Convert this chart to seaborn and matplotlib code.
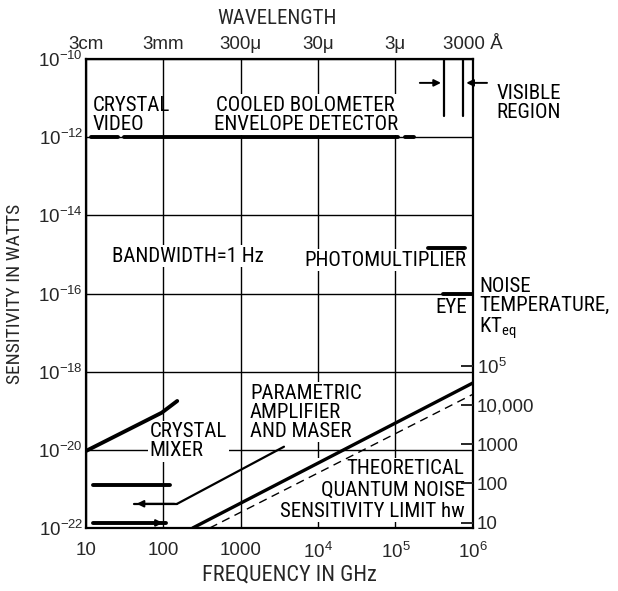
import numpy as np
import matplotlib
matplotlib.use("Agg")
import matplotlib.pyplot as plt
from matplotlib import font_manager as fm
from matplotlib.ticker import NullLocator, FixedLocator, FixedFormatter
import seaborn as sns

# axis ticks
freq_ticks = [10, 100, 1000, 1e4, 1e5, 1e6]
freq_labels = ["10", "100", "1000", "$10^4$", "$10^5$", "$10^6$"]
wave_labels = ["3cm", "3mm", "300μ", "30μ", "3μ", "3000 Å"]
power_ticks = [1e-10, 1e-12, 1e-14, 1e-16, 1e-18, 1e-20, 1e-22]
power_labels = ["$10^{-10}$", "$10^{-12}$", "$10^{-14}$", "$10^{-16}$",
                "$10^{-18}$", "$10^{-20}$", "$10^{-22}$"]
temp_ticks = [10, 100, 1000, 1e4, 1e5]
temp_labels = ["10", "100", "1000", "10,000", "$10^5$"]
k_boltz = 1.38e-23

# detector curves (GHz, watts)
crystal_video_f = [10**1.06, 10**1.41]
crystal_video_p = [1e-12, 1e-12]
bolometer_f = [10**1.49, 10**5.03]
bolometer_p = [1e-12, 1e-12]
bolometer_tail_f = [10**5.13, 10**5.24]
bolometer_tail_p = [1e-12, 1e-12]
photomult_f = [10**5.42, 10**5.90]
photomult_p = [10**-14.83, 10**-14.83]
eye_f = [10**5.62, 10**6.0]
eye_p = [1e-16, 1e-16]
mixer_f = [10, 10**1.98, 10**2.18]
mixer_p = [10**-20.03, 10**-19.05, 10**-18.75]
mixer_low1_f = [10**1.09, 10**2.085]
mixer_low1_p = [10**-20.90, 10**-20.90]
mixer_low2_f = [10**1.09, 10**2.03]
mixer_low2_p = [10**-21.87, 10**-21.87]
paramp_f = [10**2.18, 10**3.56]
paramp_p = [10**-21.38, 10**-19.92]
paramp_arrow_f = [10**2.18, 10**1.62]
quantum_f = [10**2.38, 1e6]
quantum_p = [1e-22, 10**-18.29]
quantum_hatch_f = [10**2.6, 1e6]
quantum_hatch_p = [1e-22, 10**-18.58]
visible_f = [10**5.625, 10**5.88]
visible_p = [1e-10, 10**-11.46]
visible_arrow_p = 10**-10.61
visible_arrow_from = [10**5.28, 10**6.22]

sns.set_style("white")

# the scan uses a condensed gothic face; take a narrow font if one exists
narrow = None
for key in ("RobotoCondensed-Regular", "LiberationSansNarrow-Regular",
            "DejaVuSansCondensed.", "OpenSans_Condensed-Regular"):
    hits = [f for f in fm.fontManager.ttflist if key in f.fname]
    if hits:
        narrow = hits[0]
        break
if narrow is not None:
    lab = dict(family=narrow.name, stretch=narrow.stretch)
    lab_size = 15
else:
    lab = dict(family="Liberation Sans")
    lab_size = 12.5

plt.rcParams["font.family"] = ["Liberation Sans", "DejaVu Sans"]
plt.rcParams["mathtext.default"] = "regular"

fig = plt.figure(figsize=(6.18, 5.91), dpi=100)
ax = fig.add_axes([0.139, 0.1066, 0.626, 0.7935])
ax.set_xscale("log")
ax.set_yscale("log")
ax.set_xlim(10, 1e6)
ax.set_ylim(1e-22, 1e-10)

ax.xaxis.set_major_locator(FixedLocator(freq_ticks))
ax.xaxis.set_major_formatter(FixedFormatter(freq_labels))
ax.yaxis.set_major_locator(FixedLocator(power_ticks))
ax.yaxis.set_major_formatter(FixedFormatter(power_labels))
ax.xaxis.set_minor_locator(NullLocator())
ax.yaxis.set_minor_locator(NullLocator())
ax.tick_params(axis="x", length=0, pad=10, labelsize=13.5)
ax.tick_params(axis="y", length=0, pad=2, labelsize=13.5)
ax.grid(True, color="black", lw=1.0)
for s in ax.spines.values():
    s.set_color("black")
    s.set_linewidth(1.6)

lw_thick = 2.8
def line(f, p, lw=lw_thick):
    sns.lineplot(x=f, y=p, ax=ax, color="black", lw=lw, estimator=None,
                 sort=False, legend=False, zorder=3)

line(crystal_video_f, crystal_video_p)
line(bolometer_f, bolometer_p)
line(bolometer_tail_f, bolometer_tail_p)
line(photomult_f, photomult_p)
line(eye_f, eye_p)
line(mixer_f, mixer_p)
line(mixer_low1_f, mixer_low1_p)
line(mixer_low2_f, mixer_low2_p)
line(paramp_f, paramp_p, lw=1.6)
line(paramp_arrow_f, [paramp_p[0]] * 2, lw=1.6)
line(quantum_f, quantum_p, lw=2.4)
line(quantum_hatch_f, quantum_hatch_p, lw=1.0)
ax.lines[-1].set_dashes([6, 4])
for vf in visible_f:
    line([vf, vf], visible_p, lw=1.6)

arrow = dict(arrowstyle="-|>", color="black", lw=1.4, mutation_scale=10)
ax.annotate("", xy=(paramp_arrow_f[1], paramp_p[0]),
            xytext=(paramp_arrow_f[0], paramp_p[0]), arrowprops=arrow)
ax.annotate("", xy=(mixer_low2_f[1], mixer_low2_p[0]),
            xytext=(mixer_low2_f[1] * 0.8, mixer_low2_p[0]), arrowprops=arrow)
ax.annotate("", xy=(visible_f[0], visible_arrow_p),
            xytext=(visible_arrow_from[0], visible_arrow_p),
            arrowprops=arrow, annotation_clip=False)
ax.annotate("", xy=(visible_f[1], visible_arrow_p),
            xytext=(visible_arrow_from[1], visible_arrow_p),
            arrowprops=arrow, annotation_clip=False)

# top wavelength axis
top = ax.secondary_xaxis("top")
top.xaxis.set_major_locator(FixedLocator(freq_ticks))
top.xaxis.set_major_formatter(FixedFormatter(wave_labels))
top.xaxis.set_minor_locator(NullLocator())
top.tick_params(length=0, pad=4, labelsize=13.5)
top.spines["top"].set_visible(False)

# right noise temperature axis
ax2 = ax.twinx()
ax2.set_yscale("log")
ax2.set_ylim(1e-22 / k_boltz, 1e-10 / k_boltz)
ax2.yaxis.set_major_locator(FixedLocator(temp_ticks))
ax2.yaxis.set_major_formatter(FixedFormatter(temp_labels))
ax2.yaxis.set_minor_locator(NullLocator())
ax2.tick_params(axis="y", direction="in", length=9, width=1.4, pad=3,
                labelsize=13.5)
for s in ax2.spines.values():
    s.set_visible(False)

# white boxes hide the grid behind labels but stay under the curves
bg = dict(facecolor="white", edgecolor="none", pad=1)
txt = dict(transform=ax.transAxes, fontsize=lab_size, color="black",
           zorder=1.5, linespacing=1.0, **lab)
ax.text(0.018, 0.881, "CRYSTAL\nVIDEO", ha="left", va="center", **txt)
ax.text(0.568, 0.881, "COOLED BOLOMETER\nENVELOPE DETECTOR", ha="center",
        va="center", bbox=bg, **txt)
ax.text(1.062, 0.906, "VISIBLE\nREGION", ha="left", va="center", **txt)
ax.text(0.067, 0.58, "BANDWIDTH=1 Hz", ha="left", va="center", bbox=bg, **txt)
ax.text(0.984, 0.571, "PHOTOMULTIPLIER", ha="right", va="center", bbox=bg, **txt)
ax.text(0.984, 0.471, "EYE", ha="right", va="center", bbox=bg, **txt)
ax.text(1.016, 0.535, "NOISE\nTEMPERATURE,\nKT$_{eq}$", ha="left", va="top",
        **txt)
ax.text(0.165, 0.185, "CRYSTAL\nMIXER", ha="left", va="center", bbox=bg, **txt)
ax.text(0.424, 0.247, "PARAMETRIC\nAMPLIFIER\nAND MASER", ha="left",
        va="center", bbox=bg, **txt)
txt_q = dict(txt, linespacing=1.15)
ax.text(0.979, 0.081, "THEORETICAL\nQUANTUM NOISE\nSENSITIVITY LIMIT hw",
        ha="right", va="center", multialignment="right", bbox=bg, **txt_q)
ax.text(0.494, 1.087, "WAVELENGTH", ha="center", va="center",
        transform=ax.transAxes, fontsize=lab_size, **lab)

fig.text(0.025, 0.503, "SENSITIVITY IN WATTS", rotation=90, ha="center",
         va="center", fontsize=14, **lab)
fig.text(0.468, 0.027, "FREQUENCY IN GHz", ha="center", va="center",
         fontsize=16, **lab)

fig.savefig("out.png", dpi=100, facecolor="white")
